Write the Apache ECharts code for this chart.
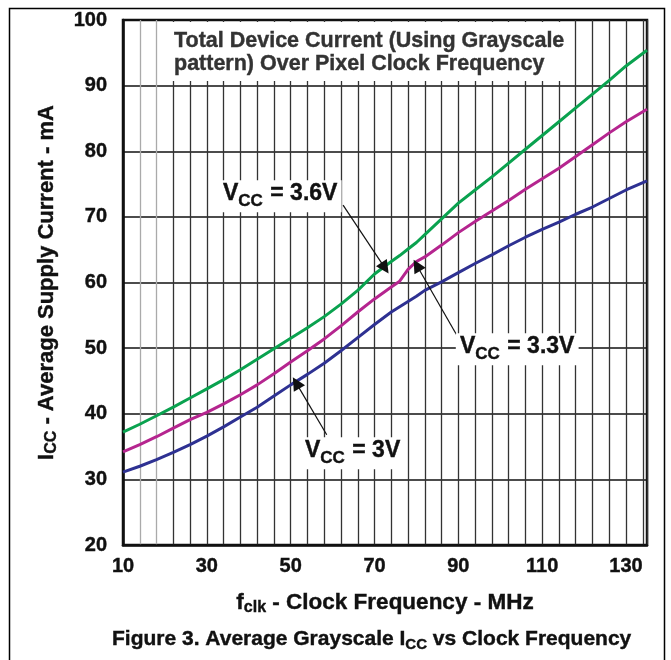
<!DOCTYPE html>
<html>
<head>
<meta charset="utf-8">
<script src="https://cdn.jsdelivr.net/npm/echarts@6/dist/echarts.min.js"></script>
<style>
  html, body { margin: 0; padding: 0; background: #fff; }
  #chart { width: 671px; height: 660px; }
</style>
</head>
<body>
<div id="chart"></div>
<script>
// clock frequency (MHz)
var freq = [10, 14, 18, 22, 26, 30, 34, 38, 42, 46, 50, 54, 58, 62, 66, 70, 74, 76, 78, 80,
            82, 86, 90, 94, 98, 102, 106, 110, 114, 118, 122, 126, 130, 135];
// average supply current (mA)
var icc36 = [37.2, 38.4, 39.7, 41.0, 42.4, 43.8, 45.2, 46.7, 48.3, 49.9, 51.5, 53.1, 54.8, 56.7, 58.8, 61.3, 63.2, 64.1, 65.1, 66.1,
             67.3, 69.7, 72.1, 74.1, 76.1, 78.2, 80.3, 82.4, 84.5, 86.6, 88.7, 90.8, 93.0, 95.4];
var icc33 = [34.2, 35.3, 36.5, 37.8, 39.1, 40.2, 41.5, 42.9, 44.4, 46.1, 47.9, 49.6, 51.4, 53.4, 55.5, 57.5, 59.3, 60.2, 62.0, 63.2,
             63.9, 65.7, 67.6, 69.3, 70.9, 72.5, 74.2, 75.8, 77.4, 79.2, 81.0, 82.8, 84.5, 86.4];
var icc30 = [31.1, 32.0, 33.0, 34.1, 35.3, 36.6, 38.0, 39.5, 41.0, 42.7, 44.4, 46.0, 47.7, 49.6, 51.6, 53.6, 55.5, 56.3, 57.1, 57.9,
             58.8, 60.1, 61.5, 62.9, 64.2, 65.6, 66.9, 68.1, 69.2, 70.4, 71.5, 72.8, 74.1, 75.5];
var xLabels = [10, 30, 50, 70, 90, 110, 130];
// arrow from label to curve: [start, tip] in data units
var arrow36 = [[62.5, 71.8], [72.5, 62.2]];
var arrow33 = [[89.6, 52.0], [80.1, 62.6]];
var arrow30 = [[58.6, 36.8], [51.3, 44.7]];

var FONT = '"Liberation Sans", Arial, sans-serif';
var INK = '#111';

function pairs(ys) {
    return freq.map(function (f, i) { return [f, ys[i]]; });
}

function txt(size, extra) {
    var s = { fontSize: size, fontWeight: 'bold', fontFamily: FONT, color: INK,
              textBorderColor: INK, textBorderWidth: 0.4 };
    for (var k in extra) s[k] = extra[k];
    return s;
}

function arrowLine(a) {
    return {
        silent: true,
        symbol: ['none', 'triangle'],
        symbolSize: 13,
        lineStyle: { color: INK, width: 1.2, type: 'solid' },
        itemStyle: { color: INK },
        label: { show: false },
        data: [[{ coord: a[0] }, { coord: a[1] }]]
    };
}

function vccLabel(volt, left, top) {
    return {
        left: left,
        top: top,
        padding: [2, 4, 2, 4],
        backgroundColor: '#fff',
        text: '{v|V}{s|CC}{v| = ' + volt + '}',
        textStyle: {
            rich: {
                v: txt(23, { lineHeight: 26 }),
                s: txt(17, { padding: [15, 1, 0, 0] })
            }
        }
    };
}

// gridlines at 14 and 18 are lighter
var splitColors = [];
for (var t = 10; t <= 135; t += 4) {
    splitColors.push(t === 14 || t === 18 ? '#aaaaaa' : '#333333');
}

var myChart = echarts.init(document.getElementById('chart'));
var option = {
    animation: false,
    backgroundColor: '#fff',
    title: [
        {
            left: 165,
            top: 22,
            padding: [7, 9, 5, 9],
            backgroundColor: '#fff',
            text: 'Total Device Current (Using Grayscale\npattern) Over Pixel Clock Frequency',
            textStyle: txt(21.5, { color: '#333', textBorderColor: '#333', lineHeight: 23.5 })
        },
        vccLabel('3.6V', 219, 176),
        vccLabel('3.3V', 456, 329),
        vccLabel('3V', 301, 433),
        {
            left: 107,
            top: 622,
            text: '{m|Figure 3. Average Grayscale I}{s|CC}{m| vs Clock Frequency}',
            textStyle: {
                rich: {
                    m: txt(21, { lineHeight: 24 }),
                    s: txt(15, { padding: [10, 0, 0, 0] })
                }
            }
        }
    ],
    graphic: [{
        type: 'rect',
        left: 7,
        top: 6,
        shape: { width: 655, height: 700 },
        style: { fill: 'none', stroke: '#000', lineWidth: 1.5 },
        silent: true
    }],
    grid: {
        left: 123,
        right: 24,
        top: 20,
        bottom: 115,
        show: true,
        borderColor: INK,
        borderWidth: 2.5,
        backgroundColor: 'transparent'
    },
    xAxis: {
        type: 'value',
        min: 10,
        max: 135,
        interval: 4,
        name: '{m|f}{s|clk}{m| - Clock Frequency - MHz}',
        nameLocation: 'middle',
        nameGap: 44,
        nameTextStyle: {
            rich: {
                m: txt(22.5, { lineHeight: 24 }),
                s: txt(16, { padding: [11, 0, 0, 0] })
            }
        },
        axisLine: { show: true, lineStyle: { color: INK, width: 2.5 } },
        axisTick: { show: false },
        axisLabel: txt(20, {
            margin: 11,
            showMaxLabel: false,
            formatter: function (v) { return xLabels.indexOf(v) >= 0 ? String(v) : ''; }
        }),
        splitLine: { show: true, lineStyle: { color: splitColors, width: 1.3 } }
    },
    yAxis: {
        type: 'value',
        min: 20,
        max: 100,
        interval: 10,
        name: '{m|I}{s|CC}{m| - Average Supply Current - mA}',
        nameLocation: 'middle',
        nameRotate: 90,
        nameGap: 63,
        nameTextStyle: {
            rich: {
                m: txt(22, { lineHeight: 24 }),
                s: txt(16, { padding: [11, 0, 0, 0] })
            }
        },
        axisLine: { show: true, lineStyle: { color: INK, width: 2.5 } },
        axisTick: { show: false },
        axisLabel: txt(20, { margin: 16 }),
        splitLine: { show: true, lineStyle: { color: INK, width: 1.5 } }
    },
    series: [
        {
            name: 'VCC = 3.6V',
            type: 'line',
            data: pairs(icc36),
            showSymbol: false,
            lineStyle: { color: '#0aa24f', width: 3 },
            itemStyle: { color: '#0aa24f' },
            markLine: arrowLine(arrow36),
            z: 3
        },
        {
            name: 'VCC = 3.3V',
            type: 'line',
            data: pairs(icc33),
            showSymbol: false,
            lineStyle: { color: '#b5258f', width: 3 },
            itemStyle: { color: '#b5258f' },
            markLine: arrowLine(arrow33),
            z: 3
        },
        {
            name: 'VCC = 3V',
            type: 'line',
            data: pairs(icc30),
            showSymbol: false,
            lineStyle: { color: '#2e3192', width: 3 },
            itemStyle: { color: '#2e3192' },
            markLine: arrowLine(arrow30),
            z: 3
        }
    ]
};
myChart.setOption(option);
</script>
</body>
</html>
